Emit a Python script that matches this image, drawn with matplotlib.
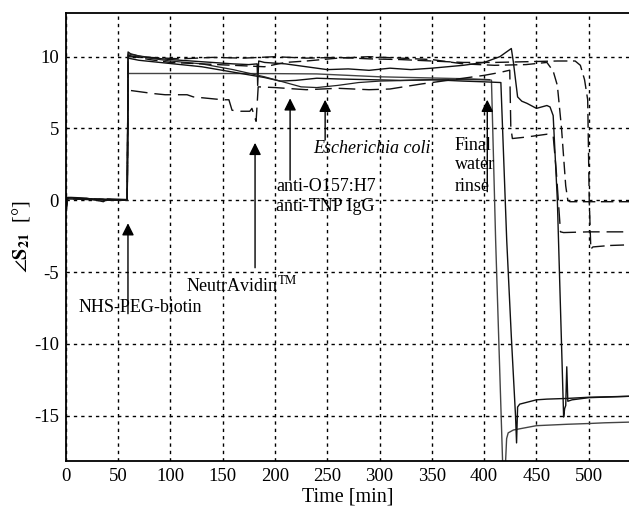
import matplotlib
matplotlib.use("Agg")
import matplotlib.pyplot as plt

plt.rcParams['font.family'] = ['Liberation Serif', 'DejaVu Serif']
plt.rcParams['mathtext.fontset'] = 'stix'
plt.rcParams['axes.unicode_minus'] = False

# phase traces: time [min], angle S21 [deg]
s1_t = [0, 0.7, 1.5, 5, 20, 40, 58.8, 59.6, 100, 150, 200, 240, 270, 300, 330, 360, 390, 405, 407, 411, 418, 420,
        421.5, 423, 428, 450, 480, 500, 515, 540]
s1_v = [0.3, -0.7, 0.15, 0.15, 0.1, 0.05, 0.0, 8.83, 8.83, 8.83, 8.82, 8.8, 8.7, 8.6, 8.55, 8.5, 8.45, 8.4, 8.36, -2.8,
        -19.0, -19.0, -16.6, -16.2, -16.0, -15.7, -15.6, -15.55, -15.5, -15.45]

s2_t = [0, 0.7, 1.5, 5, 20, 40, 58.8, 59.6, 70, 90, 110, 130, 150, 170, 190, 205, 220, 240, 260, 290, 320, 350, 380,
        400, 416, 421.6, 426, 430, 431, 432, 434, 450, 460, 480, 500, 540]
s2_v = [0.2, -0.5, 0.1, 0.1, 0.05, 0.0, 0.0, 9.9, 9.75, 9.6, 9.45, 9.3, 9.05, 8.8, 8.55, 8.3, 8.35, 8.5, 8.45, 8.4,
        8.35, 8.4, 8.3, 8.25, 8.2, -2.8, -9.5, -15.0, -16.9, -14.4, -14.2, -13.9, -13.85, -13.8, -13.72, -13.65]

s3_t = [0, 0.7, 1.5, 5, 20, 36, 40, 58.8, 59.6, 62, 70, 85, 100, 120, 140, 160, 175, 183, 183.5, 184.5, 190, 210,
        230, 250, 270, 290, 310, 330, 350, 380, 400, 415, 426, 428, 432, 436, 441, 450, 460, 463, 466, 470, 476,
        477, 478, 479, 480, 484, 500, 540]
s3_v = [0.1, -0.4, 0.2, 0.2, 0.15, -0.1, 0.1, 0.05, 10.33, 10.2, 10.05, 9.9, 9.8, 9.7, 9.6, 9.5, 9.45, 9.5, 8.0, 9.7,
        9.6, 9.5, 9.3, 9.1, 9.15, 9.05, 9.2, 9.1, 9.2, 9.4, 9.6, 10.0, 10.57, 9.6, 7.2, 6.9, 6.75, 6.4, 6.6, 6.5, 5.9,
        0.0, -15.1, -14.5, -14.3, -11.6, -14.0, -13.9, -13.75, -13.65]

s4_t = [0, 0.7, 1.5, 5, 20, 40, 58.8, 59.6, 80, 100, 130, 160, 190, 210, 225, 240, 260, 280, 300, 330, 360, 390, 405]
s4_v = [0.25, -0.6, 0.1, 0.1, 0.1, 0.05, 0.0, 10.2, 9.9, 9.7, 9.5, 9.1, 8.6, 8.2, 7.9, 7.85, 8.0, 8.2, 8.3, 8.35,
        8.4, 8.4, 8.38]

d1_t = [0, 0.7, 1.5, 5, 20, 40, 58.8, 59.6, 80, 110, 140, 170, 200, 230, 260, 290, 320, 350, 380, 410, 440, 470, 487,
        492, 496, 499, 500.5, 502, 504, 520, 540]
d1_v = [0.15, -0.3, 0.1, 0.15, 0.1, 0.05, 0.0, 10.0, 9.95, 9.85, 9.95, 9.9, 10.0, 9.9, 9.95, 9.85, 9.8, 9.7, 9.6, 9.6,
        9.65, 9.7, 9.7, 9.4, 8.4, 7.0, 0.0, -3.4, -3.25, -3.15, -3.1]

d2_t = [0, 0.7, 1.5, 5, 20, 40, 58.8, 59.6, 80, 100, 130, 160, 190, 210, 230, 260, 290, 320, 350, 380, 410, 440, 460,
        466, 470, 474, 478, 480, 482, 500, 540]
d2_v = [0.15, -0.3, 0.1, 0.1, 0.1, 0.05, 0.0, 10.1, 9.8, 9.6, 9.5, 9.4, 9.3, 9.6, 9.7, 9.9, 10.0, 9.9, 9.8, 9.5, 9.4,
        9.45, 9.6, 9.0, 8.0, 5.0, 1.0, 0.0, -0.1, -0.1, -0.1]

d3_t = [0, 0.7, 1.5, 5, 20, 40, 58.8, 59.6, 84, 95, 116, 122, 150, 156, 159, 167, 176, 178, 181, 182, 184, 200, 230,
        260, 290, 310, 340, 370, 400, 415, 424.5, 425.5, 427, 440, 450, 460, 466, 469, 473, 476, 500, 540]
d3_v = [0.2, -0.4, 0.1, 0.1, 0.1, 0.05, 0.0, 7.67, 7.43, 7.35, 7.35, 7.2, 7.0, 7.0, 6.27, 6.2, 6.2, 6.4, 5.7, 5.5,
        7.9, 7.85, 7.7, 7.8, 7.7, 7.75, 8.1, 8.4, 8.7, 8.9, 9.06, 5.1, 4.3, 4.4, 4.5, 4.6, 4.5, 2.0, -2.2, -2.25, -2.2,
        -2.2]

x_ticks = [0, 50, 100, 150, 200, 250, 300, 350, 400, 450, 500]
y_ticks = [-15, -10, -5, 0, 5, 10]

fig = plt.figure(figsize=(6.29, 5.07), dpi=100)
ax = fig.add_axes([0.1045, 0.0913, 0.898, 0.8824])

ax.plot(s1_t, s1_v, color='#444444', lw=1.0)
ax.plot(s2_t, s2_v, color='#111111', lw=1.0)
ax.plot(s3_t, s3_v, color='#111111', lw=1.0)
ax.plot(s4_t, s4_v, color='#222222', lw=0.9)
ax.plot(d1_t, d1_v, color='#111111', lw=1.0, dashes=(10, 4))
ax.plot(d2_t, d2_v, color='#111111', lw=1.0, dashes=(9, 4))
ax.plot(d3_t, d3_v, color='#111111', lw=1.0, dashes=(12, 5))

ax.set_xlim(0, 540)
ax.set_ylim(-18.14, 13.02)
ax.set_xticks(x_ticks)
ax.set_yticks(y_ticks)
ax.grid(True, color='black', lw=1.0, linestyle=(0, (2.4, 2.9)))
ax.tick_params(length=0, labelsize=13.5, pad=5)
for side in ['left', 'bottom', 'top']:
    ax.spines[side].set_linewidth(1.3)
ax.spines['right'].set_visible(False)

ax.set_xlabel('Time [min]', fontsize=14.5, labelpad=2)
ax.set_ylabel(r'$\angle\mathbf{S}_{\mathbf{21}}$  [°]', fontsize=14.5, labelpad=1)

# event arrows
arrow = dict(arrowstyle='-|>', mutation_scale=18, color='black', lw=1.0, shrinkA=0, shrinkB=0)
ax.annotate('', xy=(59.5, -1.6), xytext=(59.5, -7.9), arrowprops=arrow)
ax.annotate('', xy=(181, 4.0), xytext=(181, -4.7), arrowprops=arrow)
ax.annotate('', xy=(214.5, 7.1), xytext=(214.5, 1.4), arrowprops=arrow)
ax.annotate('', xy=(248, 7.0), xytext=(248, 4.2), arrowprops=arrow)
ax.annotate('', xy=(403, 7.0), xytext=(403, 0.6), arrowprops=arrow)

ax.text(71, -7.45, 'NHS-PEG-biotin', fontsize=13, ha='center', va='center')
ax.text(168, -5.9, r'NeutrAvidin$^{\mathrm{TM}}$', fontsize=13, ha='center', va='center')
ax.text(201, 0.95, 'anti-O157:H7', fontsize=13, ha='left', va='center')
ax.text(201, -0.45, 'anti-TNP IgG', fontsize=13, ha='left', va='center')
ax.text(293, 3.6, 'Escherichia coli', fontsize=13, ha='center', va='center', style='italic')
ax.text(372, 3.8, 'Final', fontsize=13, ha='left', va='center')
ax.text(372, 2.5, 'water', fontsize=13, ha='left', va='center')
ax.text(372, 0.95, 'rinse', fontsize=13, ha='left', va='center')

fig.savefig('out.png', dpi=100)
